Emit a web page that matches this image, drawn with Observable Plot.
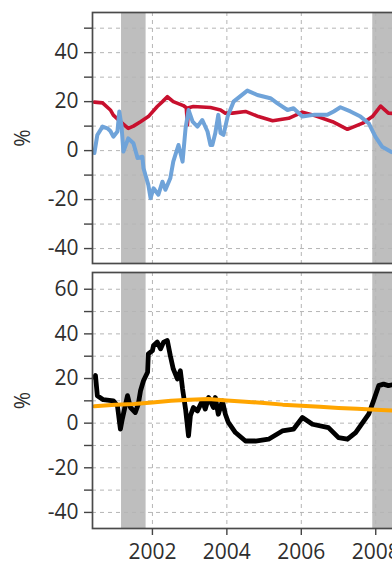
<!DOCTYPE html>
<html><head><meta charset="utf-8">
<script src="https://cdn.jsdelivr.net/npm/d3@7"></script>
<script src="https://cdn.jsdelivr.net/npm/@observablehq/plot@0.6"></script>
<style>
html,body{margin:0;padding:0;background:#fff;overflow:hidden;width:392px;height:565px;}
#chart{width:392px;height:565px;overflow:hidden;}
#chart svg{display:block;max-width:none !important;flex:none;}
</style></head><body><div id="chart"></div>
<script>
// ---- data ----
const redYears = [2000.44,2000.66,2000.87,2000.95,2001.14,2001.35,2001.49,2001.68,2001.89,2002.13,2002.27,2002.40,2002.56,2002.83,2002.91,2002.94,2002.97,2003.10,2003.56,2003.83,2003.96,2004.15,2004.50,2004.85,2005.23,2005.66,2006.03,2006.38,2006.84,2007.24,2007.65,2007.91,2008.13,2008.34,2008.66];
const redValues = [19.8,19.5,16.6,14.5,11.8,9.1,10,11.8,13.9,18,20,22,20,18.4,17.5,10.5,17.5,18,17.6,16.6,15.3,15.3,16,13.9,12.2,13.2,15.7,14.2,11.8,8.7,11.2,13.9,18.2,15.3,15];

const blueYears = [2000.44,2000.52,2000.66,2000.79,2000.87,2000.95,2001.06,2001.11,2001.17,2001.22,2001.35,2001.49,2001.60,2001.73,2001.76,2001.89,2001.95,2002.03,2002.16,2002.27,2002.35,2002.48,2002.56,2002.70,2002.81,2002.89,2002.97,2003.08,2003.21,2003.34,2003.48,2003.56,2003.61,2003.69,2003.77,2003.83,2003.91,2004.02,2004.18,2004.55,2004.82,2005.17,2005.36,2005.63,2005.79,2006.03,2006.33,2006.70,2006.87,2007.05,2007.32,2007.59,2007.81,2007.99,2008.17,2008.40,2008.66];
const blueValues = [-1,6.4,9.8,9.1,8,5.7,7.8,16,10,-0.4,5,3,-3,-2.5,-7.2,-14,-19.4,-15.4,-18,-12.7,-16,-11.3,-4.5,2.3,-4.5,9.1,16.6,11.8,9.8,12.5,7.8,2.3,2.3,7.2,14.6,7.2,6.4,13.9,20,24.5,22.7,21.4,19.3,16.6,17.3,13.9,14.6,14.6,16,17.7,16,13.9,11.2,5.7,1.6,-0.4,-2];

const blackYears = [2000.44,2000.47,2000.52,2000.68,2000.95,2001.06,2001.14,2001.19,2001.33,2001.41,2001.54,2001.62,2001.68,2001.76,2001.87,2001.89,2002.00,2002.03,2002.13,2002.22,2002.30,2002.40,2002.48,2002.56,2002.67,2002.75,2002.81,2002.89,2002.97,2003.02,2003.10,2003.21,2003.34,2003.42,2003.51,2003.64,2003.69,2003.77,2003.88,2003.96,2004.04,2004.23,2004.50,2004.77,2005.12,2005.49,2005.79,2006.03,2006.30,2006.73,2007.00,2007.24,2007.46,2007.81,2007.94,2008.08,2008.21,2008.34,2008.53,2008.66];
const blackValues = [20.5,21.3,12.3,10.5,10,7.8,-2.7,1.8,12.3,7,4.8,8.5,14.5,19,22.8,31,32.5,34.8,36.3,33.3,36.3,37,30.3,24.3,19.8,23.5,15.3,6.3,-5.7,3.3,7,5.5,10,6.3,11.5,7,11.5,4,10,4,0.3,-4.2,-8,-8,-7.2,-3.5,-2.7,2.5,-0.5,-2,-6.5,-7.2,-4.2,4,10,16.8,17.5,16.8,17.5,17];

const orangeYears = [2000.44,2001.0,2001.5,2002.0,2002.5,2003.0,2003.5,2004.0,2004.5,2005.0,2005.5,2006.0,2006.5,2007.0,2007.5,2008.0,2008.66];
const orangeValues = [7.6,8.2,8.6,9.3,10.0,10.5,10.8,10.2,9.6,9.0,8.3,7.8,7.3,6.8,6.4,6.0,5.5];

const recessionStart = [2001.17, 2007.92];
const recessionEnd = [2001.83, 2009.5];

const yearTicks = [2002, 2004, 2006, 2008];
const topTicks = [-40,-30,-20,-10,0,10,20,30,40,50];
const bottomTicks = [-40,-30,-20,-10,0,10,20,30,40,50,60];

// ---- build ----
const toRows = (xs, ys) => xs.map((x, i) => ({x, y: ys[i]}));
const recessions = recessionStart.map((s, i) => ({start: s, end: recessionEnd[i]}));
const xDomain = [2000.39, 2009.74];
const FONT = "'Open Sans', 'DejaVu Sans', sans-serif";
const gridStyle = {stroke: "#b5b5b5", strokeOpacity: 1, strokeWidth: 1, strokeDasharray: "4,4"};

function panel({height, marginTop, marginBottom, yDomain, yTicks, lines, showX}) {
  const marks = [
    Plot.rect(recessions, {x1: "start", x2: "end", fill: "#bebebe"}),
    Plot.gridY(yTicks, gridStyle),
    Plot.gridX(yearTicks, gridStyle),
    ...lines.map(l => Plot.line(l.data, {x: "x", y: "y", stroke: l.color, strokeWidth: l.width, strokeLinejoin: "round", strokeLinecap: "round"})),
    Plot.frame({stroke: "#4a4a4a", strokeWidth: 1.7}),
    Plot.axisY(yTicks, {tickSize: 8, tickPadding: 6, strokeWidth: 1.4, stroke: "#444", tickFormat: d => d % 20 === 0 ? String(d) : "",
      label: "%", labelAnchor: "center", labelArrow: "none", labelOffset: 77})
  ];
  if (showX) marks.push(Plot.axisX(yearTicks, {tickSize: 7, tickPadding: 9, strokeWidth: 1.4, stroke: "#444", tickFormat: d => String(d), label: null}));
  return Plot.plot({
    width: 440, height, marginLeft: 92, marginRight: 0, marginTop, marginBottom,
    style: {fontFamily: FONT, fontSize: "21px", color: "#2e2e2e", background: "#fff", overflow: "visible", maxWidth: "none", width: "440px"},
    x: {domain: xDomain, axis: showX ? undefined : null},
    y: {domain: yDomain},
    marks
  });
}

const topPanel = panel({
  height: 265, marginTop: 12, marginBottom: 2, yDomain: [-46.1, 56.4], yTicks: topTicks, showX: false,
  lines: [
    {data: toRows(redYears, redValues), color: "#c8102e", width: 3.6},
    {data: toRows(blueYears, blueValues), color: "#6fa3d9", width: 4}
  ]
});
const bottomPanel = panel({
  height: 300, marginTop: 7, marginBottom: 37, yDomain: [-47.2, 67.5], yTicks: bottomTicks, showX: true,
  lines: [
    {data: toRows(blackYears, blackValues), color: "#000", width: 4.8},
    {data: toRows(orangeYears, orangeValues), color: "#ffa500", width: 4}
  ]
});
const el = document.getElementById("chart");
el.appendChild(topPanel);
el.appendChild(bottomPanel);
</script></body></html>
